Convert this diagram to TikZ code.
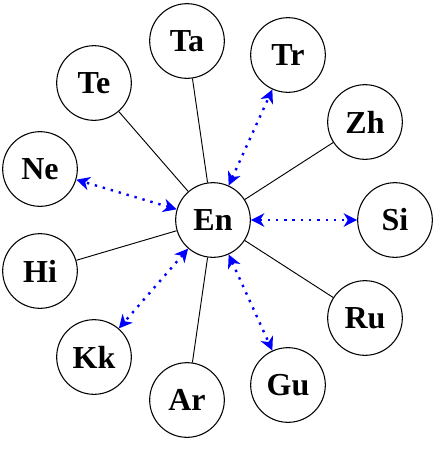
\documentclass[tikz,border=0pt]{standalone}
\usepackage{fontspec}
\setmainfont{Liberation Serif}
\usetikzlibrary{arrows.meta}
\begin{document}
\begin{tikzpicture}[x=0.75pt,y=-0.75pt,
    lang/.style={circle,draw,line width=0.8pt,minimum size=56pt,inner sep=0pt,
      font=\fontsize{24}{28}\selectfont\bfseries},
    link/.style={line width=0.7pt},
    pivot/.style={blue,line width=1.8pt,dash pattern=on 1.8pt off 4.4pt,
      {Stealth[length=10pt,width=10pt,inset=3pt]}-{Stealth[length=10pt,width=10pt,inset=3pt]}}]
  \useasboundingbox (0,0) rectangle (434,472);
  \node[lang] (En) at (213,220) {En};
  \foreach \name/\x/\y in {Ta/187/41,Tr/288/55,Te/94/83,Zh/365/122,Ne/40/169,Si/395/220,
                           Hi/40/271,Ru/365/318,Kk/94/357,Gu/288/385,Ar/187/400}{
    \node[lang] (\name) at (\x,\y) {\name};
  }
  \foreach \name in {Ta,Te,Zh,Hi,Ru,Ar}{
    \draw[link] (En)--(\name);
  }
  \foreach \name in {Tr,Ne,Si,Kk,Gu}{
    \draw[pivot] (En)--(\name);
  }
\end{tikzpicture}
\end{document}
